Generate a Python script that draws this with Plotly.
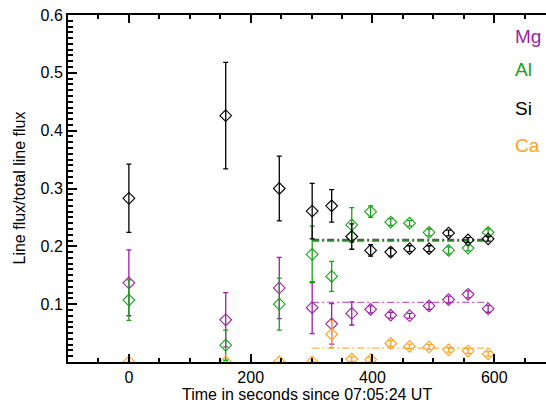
import plotly.graph_objects as go

# ---- data ----
times = [0, 159, 247, 301, 333, 366, 397, 430, 461, 493, 525, 557, 590]

mg = [0.137, 0.073, 0.128, 0.094, 0.066, 0.084, 0.091, 0.081, 0.080, 0.097, 0.108, 0.117, 0.092]
mg_err = [0.057, 0.047, 0.053, 0.045, 0.035, 0.020, 0.006, 0.005, 0.004, 0.006, 0.006, 0.006, 0.006]

al = [0.107, 0.029, 0.100, 0.186, 0.148, 0.237, 0.260, 0.242, 0.240, 0.224, 0.193, 0.197, 0.224]
al_err = [0.035, 0.026, 0.045, 0.049, 0.026, 0.030, 0.010, 0.006, 0.005, 0.006, 0.006, 0.005, 0.006]

si = [0.283, 0.426, 0.300, 0.261, 0.270, 0.217, 0.193, 0.190, 0.196, 0.196, 0.223, 0.211, 0.213]
si_err = [0.059, 0.092, 0.056, 0.048, 0.028, 0.022, 0.010, 0.007, 0.005, 0.005, 0.005, 0.004, 0.004]

ca = [0.0, 0.0, 0.0, 0.0, 0.048, 0.005, 0.004, 0.032, 0.027, 0.026, 0.021, 0.019, 0.014]
ca_err = [0.0, 0.0, 0.0, 0.0, 0.023, 0.004, 0.004, 0.005, 0.004, 0.004, 0.004, 0.004, 0.004]

fit_span = [301, 590]
fit_mg = 0.103
fit_al = 0.209
fit_si = 0.211
fit_ca = 0.024

names = ["Mg", "Al", "Si", "Ca"]
label_y = [0.562, 0.506, 0.439, 0.375]
label_x = 630

C_MG = "#9c1fa4"
C_AL = "#18a018"
C_SI = "#000000"
C_CA = "#ffa31a"

fig = go.Figure()

DASH = "7px,3px,2px,3px"

# fit lines
fig.add_trace(go.Scatter(x=fit_span, y=[fit_si, fit_si], mode="lines",
                         line=dict(color="rgba(70,70,70,0.9)", width=2.5, dash=DASH),
                         showlegend=False, hoverinfo="skip"))
fig.add_trace(go.Scatter(x=fit_span, y=[fit_al, fit_al], mode="lines",
                         line=dict(color="rgba(24,160,24,0.9)", width=1.3, dash=DASH),
                         showlegend=False, hoverinfo="skip"))
fig.add_trace(go.Scatter(x=fit_span, y=[fit_mg, fit_mg], mode="lines",
                         line=dict(color="rgba(190,80,195,0.9)", width=1.3, dash=DASH),
                         showlegend=False, hoverinfo="skip"))
fig.add_trace(go.Scatter(x=fit_span, y=[fit_ca, fit_ca], mode="lines",
                         line=dict(color="rgba(255,170,50,0.9)", width=1.3, dash=DASH),
                         showlegend=False, hoverinfo="skip"))

for vals, errs, col in [(mg, mg_err, C_MG), (al, al_err, C_AL), (si, si_err, C_SI), (ca, ca_err, C_CA)]:
    fig.add_trace(go.Scatter(
        x=times, y=vals, mode="markers",
        marker=dict(symbol="diamond-open", size=9, color=col, line=dict(width=1.1, color=col)),
        error_y=dict(type="data", array=errs, visible=True, color=col, thickness=1.3, width=2.5),
        showlegend=False, cliponaxis=True,
    ))

cols = [C_MG, C_AL, C_SI, C_CA]
for n, yy, c in zip(names, label_y, cols):
    fig.add_annotation(x=label_x, y=yy, xref="x", yref="y", text=n, showarrow=False,
                       xanchor="left", yanchor="middle",
                       font=dict(family="Liberation Sans, Arial, sans-serif", size=19, color=c))

# axis titles
fig.add_annotation(x=0.5, y=0, xref="paper", yref="paper", yshift=-32, text="Time in seconds since 07:05:24 UT",
                   showarrow=False, xanchor="center", yanchor="middle",
                   font=dict(family="Liberation Sans, Arial, sans-serif", size=16, color="black"))
fig.add_annotation(x=0, y=0.5, xref="paper", yref="paper", xshift=-49, text="Line flux/total line flux",
                   showarrow=False, textangle=-90, xanchor="center", yanchor="middle",
                   font=dict(family="Liberation Sans, Arial, sans-serif", size=16, color="black"))

fig.update_layout(
    width=546, height=403,
    margin=dict(l=68, r=0, t=15, b=41),
    paper_bgcolor="white", plot_bgcolor="white",
    font=dict(family="Liberation Sans, Arial, sans-serif", size=16, color="black"),
    xaxis=dict(range=[-100, 685], tick0=0, dtick=200, ticks="inside", ticklen=8, tickwidth=1.5,
               tickcolor="black", showline=True, linecolor="black", linewidth=2, mirror="allticks",
               showgrid=False, zeroline=False,
               minor=dict(dtick=50, tick0=0, ticks="inside", ticklen=4, tickwidth=1.5, tickcolor="black")),
    yaxis=dict(range=[0, 0.6], tick0=0, dtick=0.1, ticks="inside", ticklen=9, tickwidth=1.5,
               tickcolor="black", showline=True, linecolor="black", linewidth=2,
               showgrid=False, zeroline=False, tickvals=[0.1, 0.2, 0.3, 0.4, 0.5, 0.6],
               ticktext=["0.1", "0.2", "0.3", "0.4", "0.5", "0.6"],
               minor=dict(dtick=0.01, tick0=0, ticks="inside", ticklen=5, tickwidth=1.5, tickcolor="black")),
    yaxis2=dict(range=[0, 0.6], overlaying="y", side="right", ticks="inside", ticklen=4, tickwidth=1.5,
                tickcolor="black", showline=False, showticklabels=False, showgrid=False, zeroline=False,
                tickvals=[0.1, 0.2, 0.3, 0.4, 0.5]),
)

fig.write_html("out.html")
